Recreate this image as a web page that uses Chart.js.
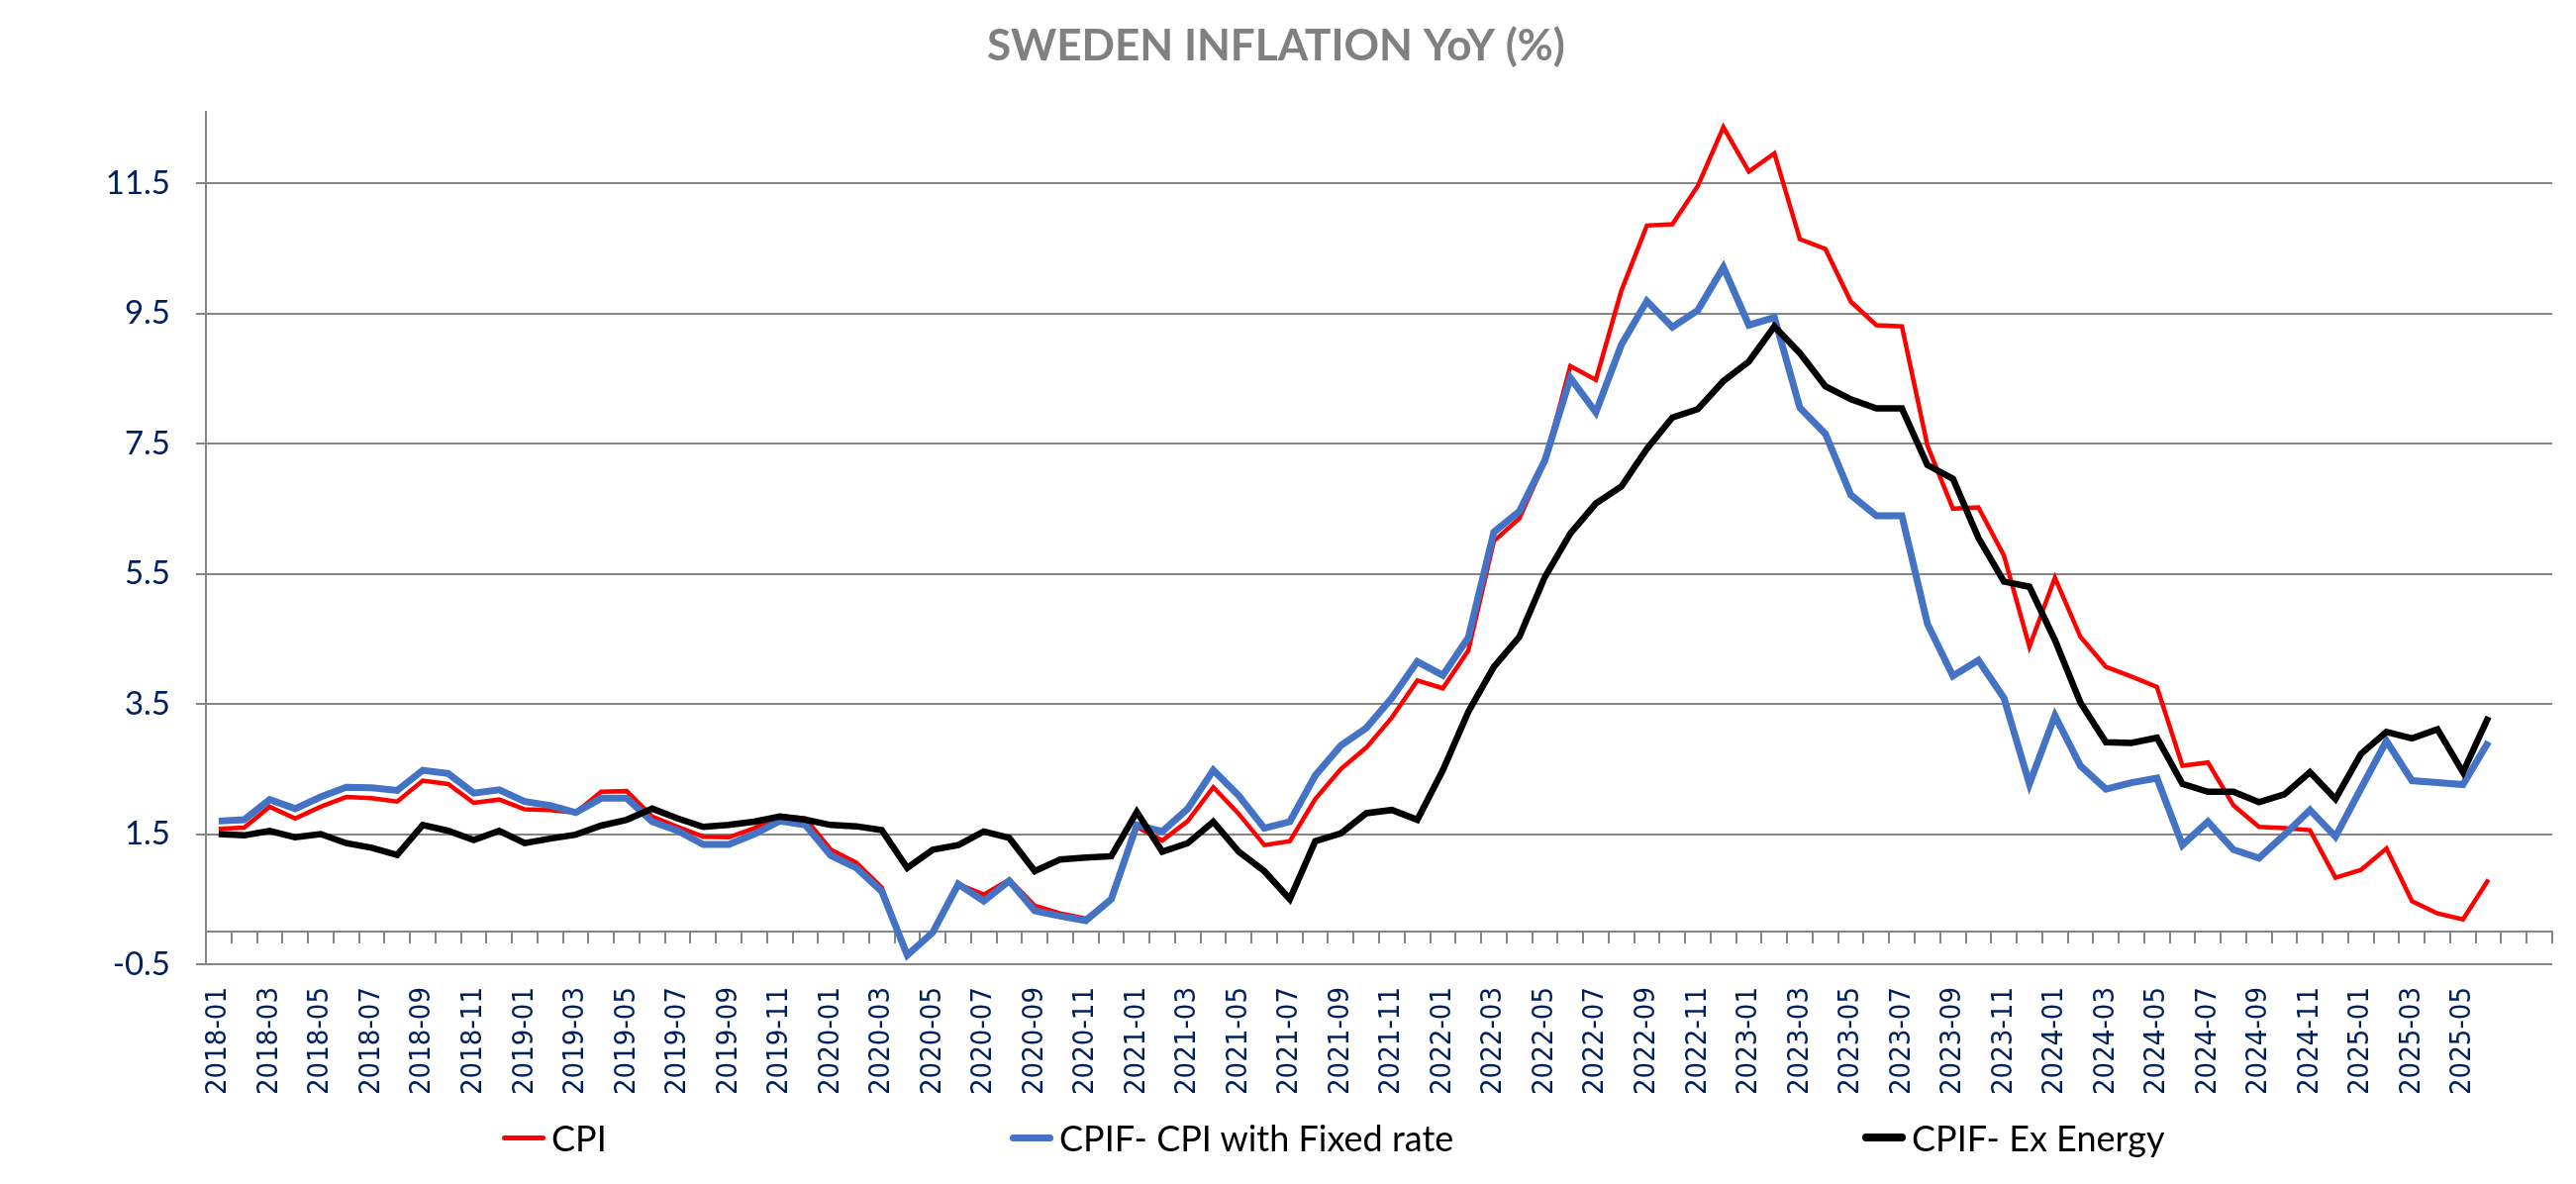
<!DOCTYPE html>
<html>
<head>
<meta charset="utf-8">
<script src="https://cdn.jsdelivr.net/npm/chart.js@4.4.1/dist/chart.umd.min.js"></script>
<style>
    body { margin: 0; background: #fff; }
    #wrap { position: relative; width: 2602px; height: 1196px; }
    .leg { position: absolute; top: 1124px; height: 50px; display: flex; align-items: center; font-family: Lato, "Open Sans", sans-serif; font-size: 36px; color: #000; white-space: nowrap; }
    .leg span.sw { display: inline-block; width: 44px; border-radius: 4px; margin-right: 6px; }
</style>
</head>
<body>
<div id="wrap">
    <canvas id="myChart"></canvas>
</div>
<script>
// months 2018-01 .. 2025-06, plus two empty slots at the end like the original sheet
let months = [];
for (let y = 2018; y <= 2025; y++) {
    for (let m = 1; m <= 12; m++) {
        if (y === 2025 && m > 6) break;
        months.push(y + '-' + (m < 10 ? '0' + m : m));
    }
}
let labels = months.concat(['', '']);

let yTicks = [-0.5, 1.5, 3.5, 5.5, 7.5, 9.5, 11.5];

let cpi = [
    1.58, 1.60, 1.92, 1.74, 1.92, 2.07, 2.05, 2.00, 2.32, 2.27, 1.98, 2.03,
    1.88, 1.87, 1.83, 2.15, 2.16, 1.77, 1.61, 1.46, 1.45, 1.59, 1.78, 1.74,
    1.26, 1.06, 0.68, -0.36, -0.01, 0.73, 0.57, 0.80, 0.40, 0.28, 0.20, 0.50,
    1.61, 1.40, 1.70, 2.22, 1.81, 1.33, 1.39, 2.04, 2.50, 2.83, 3.29, 3.86,
    3.74, 4.32, 6.00, 6.35, 7.22, 8.69, 8.48, 9.85, 10.85, 10.87, 11.46, 12.36,
    11.68, 11.96, 10.64, 10.49, 9.68, 9.32, 9.30, 7.47, 6.50, 6.52, 5.78, 4.38,
    5.44, 4.53, 4.07, 3.92, 3.76, 2.55, 2.60, 1.94, 1.61, 1.59, 1.56, 0.83,
    0.95, 1.28, 0.47, 0.28, 0.19, 0.80
];

let cpif = [
    1.70, 1.72, 2.03, 1.89, 2.07, 2.22, 2.21, 2.17, 2.48, 2.43, 2.13, 2.18,
    2.00, 1.94, 1.83, 2.05, 2.05, 1.69, 1.55, 1.34, 1.34, 1.50, 1.70, 1.64,
    1.17, 0.98, 0.62, -0.36, -0.01, 0.73, 0.47, 0.78, 0.32, 0.24, 0.17, 0.50,
    1.64, 1.54, 1.89, 2.48, 2.09, 1.59, 1.69, 2.40, 2.86, 3.13, 3.59, 4.15,
    3.94, 4.52, 6.14, 6.46, 7.24, 8.51, 7.98, 9.02, 9.69, 9.29, 9.55, 10.21,
    9.32, 9.44, 8.05, 7.65, 6.71, 6.39, 6.39, 4.73, 3.93, 4.17, 3.59, 2.27,
    3.32, 2.55, 2.19, 2.29, 2.36, 1.33, 1.69, 1.26, 1.13, 1.49, 1.87, 1.46,
    2.20, 2.93, 2.32, 2.29, 2.26, 2.92
];

let cpifXe = [
    1.50, 1.48, 1.55, 1.45, 1.50, 1.36, 1.29, 1.18, 1.64, 1.55, 1.41, 1.55,
    1.36, 1.43, 1.49, 1.63, 1.72, 1.89, 1.74, 1.61, 1.64, 1.69, 1.77, 1.72,
    1.64, 1.62, 1.56, 0.98, 1.26, 1.33, 1.54, 1.44, 0.93, 1.11, 1.14, 1.16,
    1.84, 1.23, 1.36, 1.69, 1.23, 0.93, 0.50, 1.39, 1.51, 1.82, 1.87, 1.72,
    2.48, 3.38, 4.07, 4.53, 5.45, 6.12, 6.58, 6.84, 7.42, 7.90, 8.03, 8.46,
    8.76, 9.30, 8.89, 8.38, 8.18, 8.04, 8.04, 7.17, 6.96, 6.05, 5.38, 5.30,
    4.48, 3.52, 2.91, 2.90, 2.98, 2.27, 2.15, 2.15, 1.99, 2.11, 2.45, 2.04,
    2.73, 3.07, 2.97, 3.11, 2.45, 3.30
];

let seriesNames = ['CPI', 'CPIF- CPI with Fixed rate', 'CPIF- Ex Energy'];

let navy = '#002060';
let grey = '#868686';

let ctx = document.getElementById('myChart').getContext('2d');
let config = {
    type: 'line',
    data: {
        labels: labels,
        datasets: [
            { label: seriesNames[0], data: cpi, borderColor: '#ff0000', borderWidth: 4.5, order: 3 },
            { label: seriesNames[1], data: cpif, borderColor: '#4472c4', borderWidth: 7, order: 2 },
            { label: seriesNames[2], data: cpifXe, borderColor: '#000000', borderWidth: 6.5, order: 1 }
        ]
    },
    options: {
        responsive: true,
        maintainAspectRatio: false,
        devicePixelRatio: 1,
        animation: false,
        elements: { point: { radius: 0 }, line: { tension: 0, fill: false } },
        layout: { padding: { left: 0, right: 24, top: 0, bottom: 0 } },
        plugins: {
            legend: { display: false },
            tooltip: { enabled: false },
            title: {
                display: true,
                text: 'SWEDEN INFLATION YoY (%)',
                color: '#808080',
                font: { family: 'Lato', size: 44, weight: 'bold' },
                padding: { top: 20, bottom: 40 }
            }
        },
        scales: {
            x: {
                type: 'category',
                offset: true,
                grid: { display: false, drawTicks: false },
                border: { display: false },
                ticks: {
                    autoSkip: false,
                    minRotation: 90,
                    maxRotation: 90,
                    padding: 23,
                    color: navy,
                    font: { family: 'DejaVu Sans Condensed', size: 29 },
                    callback: function (v, i) {
                        return i % 2 === 0 ? this.getLabelForValue(v) : '';
                    }
                },
                afterFit: function (s) {
                    s.height = 222;
                    s.paddingLeft = 0;
                    s.paddingRight = 0;
                }
            },
            x2: {
                type: 'category',
                offset: true,
                position: { y: 0 },
                grid: { offset: true, drawOnChartArea: false, color: grey, lineWidth: 2, tickLength: 11 },
                border: { color: grey, width: 2 },
                ticks: { display: false, autoSkip: false },
                afterFit: function (s) {
                    s.height = 0;
                    s.paddingLeft = 0;
                    s.paddingRight = 0;
                }
            },
            y: {
                min: -0.5,
                max: 12.6,
                afterBuildTicks: function (s) {
                    s.ticks = yTicks.map(function (v) { return { value: v }; });
                },
                grid: { color: grey, lineWidth: 2, tickLength: 10 },
                border: { color: grey, width: 2 },
                ticks: {
                    color: navy,
                    padding: 26,
                    font: { family: 'Lato', size: 33 },
                    callback: function (v) { return v.toFixed(1); }
                },
                afterFit: function (s) { s.width = 208; }
            }
        }
    }
};
window.myLine = new Chart(ctx, config);

// legend drawn as html so the entries can sit where the original put them
let legendX = [507, 1020, 1881];
let legendH = [5, 7, 8];
let wrap = document.getElementById('wrap');
config.data.datasets.forEach(function (ds, i) {
    let item = document.createElement('div');
    item.className = 'leg';
    item.style.left = legendX[i] + 'px';
    let sw = document.createElement('span');
    sw.className = 'sw';
    sw.style.height = legendH[i] + 'px';
    sw.style.background = ds.borderColor;
    item.appendChild(sw);
    item.appendChild(document.createTextNode(ds.label));
    wrap.appendChild(item);
});
</script>
</body>
</html>
